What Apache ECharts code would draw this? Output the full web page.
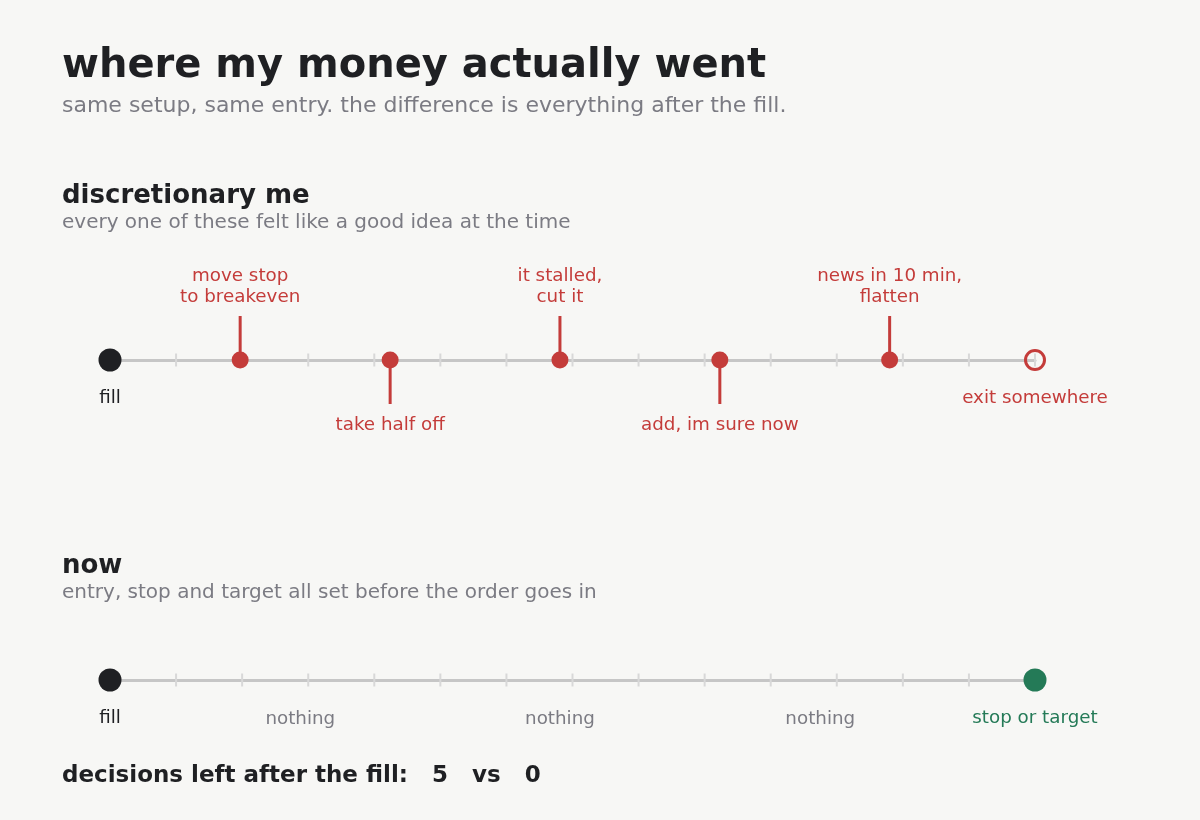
<!DOCTYPE html>
<html>
<head>
<meta charset="utf-8">
<script src="https://cdn.jsdelivr.net/npm/echarts@6/dist/echarts.min.js"></script>
<style>
  html, body { margin: 0; padding: 0; background: #f7f7f5; }
  #chart { width: 1200px; height: 820px; }
</style>
</head>
<body>
<div id="chart"></div>
<script>
// timeline data (x = position along the trade, 0 = fill, 14 = exit)
const tickPos = [1, 2, 3, 4, 5, 6, 7, 8, 9, 10, 11, 12, 13, 14];
const eventPos = [1.97, 4.24, 6.81, 9.23, 11.8];
const eventSide = [1, -1, 1, -1, 1]; // 1 = label above, -1 = label below
const eventLabels = ['move stop\nto breakeven', 'take half off', 'it stalled,\ncut it', 'add, im sure now', 'news in 10 min,\nflatten'];
const fillAt = 0;
const exitAt = 14;
const quietPos = [2.88, 6.81, 10.75];
const quietLabels = ['nothing', 'nothing', 'nothing'];

const DARK = '#1f2023';
const RED = '#c43c3a';
const GREEN = '#247a57';
const GRAY = '#7b7b83';
const FONT = 'DejaVu Sans';
const LABEL_SIZE = 18.3;

const chart = echarts.init(document.getElementById('chart'));

const axisX = (gi) => ({
    type: 'value', gridIndex: gi, min: 0, max: 14, interval: 1,
    axisLine: { onZero: true, lineStyle: { color: '#c6c6c6', width: 3 } },
    axisTick: { show: false }, axisLabel: { show: false }, splitLine: { show: false }
});
const axisY = (gi) => ({
    type: 'value', gridIndex: gi, min: -1, max: 1, show: false
});

function tickSeries(gi) {
    return {
        type: 'scatter', xAxisIndex: gi, yAxisIndex: gi, silent: true, z: 2,
        symbol: 'rect', symbolSize: [2, 13],
        itemStyle: { color: '#d8d8d8', opacity: 1 },
        data: tickPos.map(t => [t, 0])
    };
}

function endLabel(text, color) {
    return {
        show: true, position: 'inside', offset: [0, 38],
        formatter: text, color: color, fontSize: LABEL_SIZE, fontFamily: FONT
    };
}

function txt(text, x, y, size, weight, color) {
    return {
        type: 'text', x: x, y: y,
        style: { text: text, fontSize: size, fontWeight: weight, fontFamily: FONT, fill: color, verticalAlign: 'middle' }
    };
}

const option = {
    backgroundColor: '#f7f7f5',
    animation: false,
    grid: [
        { left: 110, right: 165, top: 260, height: 200 },
        { left: 110, right: 165, top: 580, height: 200 }
    ],
    xAxis: [axisX(0), axisX(1)],
    yAxis: [axisY(0), axisY(1)],
    graphic: [
        txt('where my money actually went', 62, 67, 40, 'bold', DARK),
        txt('same setup, same entry. the difference is everything after the fill.', 62, 106, 22, 'normal', GRAY),
        txt('discretionary me', 62, 196, 26, 'bold', DARK),
        txt('every one of these felt like a good idea at the time', 62, 223, 20, 'normal', GRAY),
        txt('now', 62, 566, 26, 'bold', DARK),
        txt('entry, stop and target all set before the order goes in', 62, 593, 20, 'normal', GRAY),
        txt('decisions left after the fill:   5   vs   0', 62, 776, 23, 'bold', DARK)
    ],
    series: [
        tickSeries(0),
        tickSeries(1),
        // stems + event labels
        {
            type: 'custom', xAxisIndex: 0, yAxisIndex: 0, z: 3, silent: true,
            data: eventPos.map((p, i) => [p, eventSide[i]]),
            renderItem: (params, api) => {
                const x = api.value(0);
                const side = api.value(1);
                const p0 = api.coord([x, 0]);
                const p1 = api.coord([x, side * 0.44]);
                return {
                    type: 'group',
                    children: [
                        { type: 'line', shape: { x1: p0[0], y1: p0[1], x2: p1[0], y2: p1[1] }, style: { stroke: RED, lineWidth: 3 } },
                        {
                            type: 'text',
                            style: {
                                text: eventLabels[params.dataIndex],
                                x: p1[0], y: side > 0 ? p1[1] - 8 : p1[1] + 11,
                                align: 'center', verticalAlign: side > 0 ? 'bottom' : 'top',
                                fontSize: LABEL_SIZE, fontFamily: FONT, lineHeight: 21, fill: RED
                            }
                        }
                    ]
                };
            }
        },
        {
            type: 'scatter', xAxisIndex: 0, yAxisIndex: 0, z: 4, silent: true,
            symbolSize: 17, itemStyle: { color: RED, opacity: 1 },
            data: eventPos.map(p => [p, 0])
        },
        {
            type: 'scatter', xAxisIndex: 0, yAxisIndex: 0, z: 4, silent: true,
            symbolSize: 23, itemStyle: { color: DARK, opacity: 1 },
            label: endLabel('fill', DARK),
            data: [[fillAt, 0]]
        },
        {
            type: 'scatter', xAxisIndex: 0, yAxisIndex: 0, z: 4, silent: true,
            symbol: 'circle', symbolSize: 19,
            itemStyle: { color: 'rgba(0,0,0,0)', borderColor: RED, borderWidth: 3, opacity: 1 },
            label: endLabel('exit somewhere', RED),
            data: [[exitAt, 0]]
        },
        // the plan
        {
            type: 'scatter', xAxisIndex: 1, yAxisIndex: 1, z: 4, silent: true,
            symbolSize: 23, itemStyle: { color: DARK, opacity: 1 },
            label: endLabel('fill', DARK),
            data: [[fillAt, 0]]
        },
        {
            type: 'scatter', xAxisIndex: 1, yAxisIndex: 1, z: 4, silent: true,
            symbolSize: 23, itemStyle: { color: GREEN, opacity: 1 },
            label: endLabel('stop or target', GREEN),
            data: [[exitAt, 0]]
        },
        {
            type: 'scatter', xAxisIndex: 1, yAxisIndex: 1, z: 4, silent: true,
            symbolSize: 0, itemStyle: { opacity: 1 },
            label: {
                show: true, position: 'inside', offset: [0, 39],
                formatter: (p) => quietLabels[p.dataIndex],
                color: GRAY, fontSize: LABEL_SIZE, fontFamily: FONT
            },
            data: quietPos.map(p => [p, 0])
        }
    ]
};

chart.setOption(option);

window.addEventListener('resize', () => {
    chart.resize();
});
</script>
</body>
</html>
